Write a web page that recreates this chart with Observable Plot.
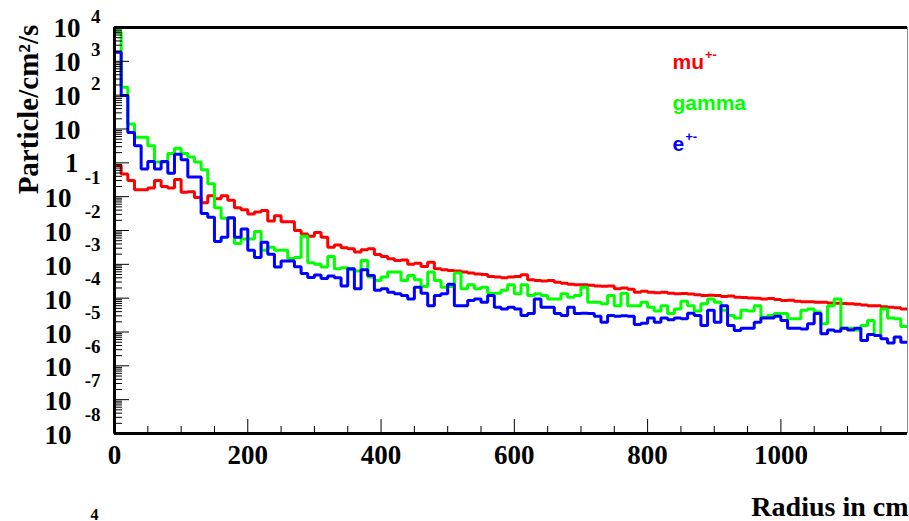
<!DOCTYPE html>
<html><head><meta charset="utf-8">
<script src="https://cdn.jsdelivr.net/npm/d3@7"></script>
<script src="https://cdn.jsdelivr.net/npm/@observablehq/plot@0.6"></script>
<style>
html,body{margin:0;padding:0;background:#fff;}
</style></head><body><div id="chart"></div>
<script>
// ---- data ----
const binWidth = 10;          // cm per bin
const xMax = 1190;            // axis upper edge (cm)
const yMin = 1e-8, yMax = 1e4;

const muValues = [0.83, 0.47, 0.30, 0.16, 0.16, 0.18, 0.30, 0.20, 0.18, 0.32,
 0.135, 0.14, 9.5e-2, 6.6e-2, 0.107, 8.7e-2, 0.107, 7.9e-2, 4.7e-2, 4.1e-2,
 3.1e-2, 3.5e-2, 3.9e-2, 1.9e-2, 2.75e-2, 1.8e-2, 1.8e-2, 1.0e-2, 7.9e-3, 6.8e-3,
 8.7e-3, 6.3e-3, 3.2e-3, 3.7e-3, 3.1e-3, 2.9e-3, 2.3e-3, 2.7e-3, 2.9e-3, 1.95e-3,
 1.7e-3, 1.45e-3, 1.3e-3, 1.35e-3, 1.0e-3, 1.07e-3, 8.7e-4, 1.15e-3, 7.4e-4, 6.9e-4,
 6.6e-4, 6.3e-4, 5.9e-4, 5.5e-4, 5.2e-4, 5.0e-4, 4.4e-4, 4.2e-4, 4.0e-4, 4.2e-4,
 4.4e-4, 4.9e-4, 3.5e-4, 3.3e-4, 3.2e-4, 3.3e-4, 2.95e-4, 2.75e-4, 2.6e-4, 2.5e-4,
 2.5e-4, 2.4e-4, 2.3e-4, 2.25e-4, 2.3e-4, 1.9e-4, 2.0e-4, 1.85e-4, 1.5e-4, 1.6e-4,
 1.5e-4, 1.45e-4, 1.5e-4, 1.4e-4, 1.35e-4, 1.38e-4, 1.32e-4, 1.26e-4, 1.2e-4, 1.23e-4,
 1.2e-4, 1.12e-4, 1.15e-4, 1.07e-4, 1.05e-4, 1.02e-4, 1.0e-4, 9.5e-5, 9.8e-5, 9.1e-5,
 8.5e-5, 8.7e-5, 8.1e-5, 7.9e-5, 7.9e-5, 7.6e-5, 7.6e-5, 7.2e-5, 7.1e-5, 6.9e-5,
 6.8e-5, 6.6e-5, 6.3e-5, 6.0e-5, 6.0e-5, 5.6e-5, 5.4e-5, 5.2e-5, 4.8e-5];

const gammaValues = [7200, 170, 14, 5.75, 5.75, 3.2, 1.05, 1.05, 1.9, 2.7,
 1.9, 1.5, 1.05, 0.62, 0.24, 4.7e-2, 2.3e-2, 2.3e-2, 4.1e-3, 5.6e-3,
 5.6e-3, 9.3e-3, 2.6e-3, 3.2e-3, 2.6e-3, 2.6e-3, 1.5e-3, 1.6e-3, 6.8e-3, 1.12e-3,
 1.0e-3, 8.3e-4, 1.7e-3, 7.4e-4, 7.9e-4, 6.9e-4, 6.3e-4, 1.3e-3, 4.2e-4, 3.3e-4,
 4.2e-4, 5.9e-4, 5.9e-4, 3.3e-4, 4.7e-4, 3.5e-4, 2.2e-4, 5.9e-4, 3.3e-4, 2.1e-4,
 2.2e-4, 5.5e-4, 1.9e-4, 2.5e-4, 1.9e-4, 2.1e-4, 1.4e-4, 1.4e-4, 1.7e-4, 2.5e-4,
 1.35e-4, 2.5e-4, 1.2e-4, 1.35e-4, 1.2e-4, 9.5e-5, 9.5e-5, 1.35e-4, 1.07e-4, 1.2e-4,
 2.1e-4, 7.6e-5, 7.6e-5, 6.8e-5, 1.2e-4, 6.0e-5, 1.4e-4, 6.0e-5, 6.0e-5, 7.6e-5,
 5.4e-5, 4.2e-5, 6.0e-5, 3.5e-5, 4.8e-5, 8.1e-5, 6.0e-5, 4.2e-5, 6.8e-5, 9.5e-5,
 7.6e-5, 4.4e-5, 3.1e-5, 2.6e-5, 4.4e-5, 4.2e-5, 6.0e-5, 2.75e-5, 3.1e-5, 3.5e-5,
 3.5e-5, 2.45e-5, 2.45e-5, 4.4e-5, 4.8e-5, 3.9e-5, 1.75e-5, 6.0e-5, 9.5e-5, 1.3e-5,
 1.3e-5, 1.15e-5, 1.55e-5, 2.2e-5, 7.9e-6, 4.8e-5, 2.6e-5, 2.45e-5, 1.45e-5];

const eValues = [1860, 98, 7.9, 3.2, 0.66, 1.1, 0.66, 1.1, 0.49, 1.8,
 1.23, 0.38, 0.38, 3.2e-2, 2.45e-2, 4.7e-3, 6.3e-3, 2.4e-2, 6.3e-3, 1.1e-2,
 2.6e-3, 1.6e-3, 4.5e-3, 2.0e-3, 8.3e-4, 1.26e-3, 1.26e-3, 8.5e-4, 5.4e-4, 4.1e-4,
 4.8e-4, 3.8e-4, 4.5e-4, 4.0e-4, 2.3e-4, 7.4e-4, 1.9e-4, 6.9e-4, 4.7e-4, 1.7e-4,
 1.9e-4, 1.5e-4, 1.35e-4, 1.2e-4, 9.5e-5, 2.1e-4, 1.4e-4, 6.0e-5, 1.2e-4, 1.35e-4,
 2.6e-4, 6.0e-5, 6.0e-5, 8.5e-5, 9.5e-5, 7.6e-5, 1.2e-4, 5.4e-5, 4.8e-5, 5.4e-5,
 4.8e-5, 3.1e-5, 3.5e-5, 9.5e-5, 5.4e-5, 5.4e-5, 3.5e-5, 3.1e-5, 5.4e-5, 3.5e-5,
 3.6e-5, 3.5e-5, 2.9e-5, 1.95e-5, 3.1e-5, 2.9e-5, 3.0e-5, 2.9e-5, 1.66e-5, 1.8e-5,
 2.6e-5, 1.95e-5, 2.6e-5, 2.3e-5, 2.6e-5, 2.45e-5, 3.6e-5, 3.1e-5, 1.55e-5, 4.4e-5,
 1.95e-5, 6.0e-5, 1.55e-5, 1.1e-5, 1.3e-5, 1.3e-5, 1.95e-5, 2.6e-5, 2.6e-5, 2.9e-5,
 2.2e-5, 1.3e-5, 1.3e-5, 1.23e-5, 1.75e-5, 3.5e-5, 8.9e-6, 1.15e-5, 1.05e-5, 1.3e-5,
 1.15e-5, 1.3e-5, 5.6e-6, 8.5e-6, 7.9e-6, 6.3e-6, 4.7e-6, 7.1e-6, 5.0e-6];

const seriesNames  = ["mu", "gamma", "e"];
const seriesSups   = ["+-", "", "+-"];
const seriesColors = ["#ff0000", "#00ff00", "#0000ff"];
const xTickLabels  = [0, 200, 400, 600, 800, 1000];
const xMinorStep   = 50;
const yExponents   = [4, 3, 2, 1, 0, -1, -2, -3, -4, -5, -6, -7, -8];
const xTitle = "Radius in cm";
const yTitle = "Particle/cm\u00B2/s";

// ---- build tables ----
const allSeries = [muValues, gammaValues, eValues];
function histPoints(values, name) {
  const pts = [{x: 0, y: yMin, series: name}];
  values.forEach((v, i) => pts.push({x: i * binWidth, y: v, series: name}));
  pts.push({x: values.length * binWidth, y: values[values.length - 1], series: name});
  return pts;
}
const xMinor = d3.range(0, xMax + 1, xMinorStep).filter(v => !xTickLabels.includes(v));
const yMinor = [];
for (const e of yExponents) if (e < 4) for (let m = 2; m <= 9; m++) yMinor.push(m * Math.pow(10, e));

const W = 909, H = 521, ML = 114, MR = 2, MT = 27, MB = 88;
const PW = W - ML - MR, PH = H - MT - MB;
const serif = "Liberation Serif, Times New Roman, serif";
const sans = "Liberation Sans, Arial, Helvetica, sans-serif";

const ctx = document.createElement("canvas").getContext("2d");
const legendFont = 21;
ctx.font = `bold ${legendFont}px ${sans}`;

const marks = [];
// histograms
allSeries.forEach((vals, i) => {
  marks.push(Plot.line(histPoints(vals, seriesNames[i]), {
    x: "x", y: "y", curve: "step-after", stroke: seriesColors[i],
    strokeWidth: 3, strokeLinejoin: "miter", strokeLinecap: "butt"
  }));
});
// frame
marks.push(Plot.ruleX([xMax], {stroke: "#888", strokeWidth: 1}));
marks.push(Plot.ruleY([yMax], {stroke: "#000", strokeWidth: 3}));
marks.push(Plot.ruleX([0], {stroke: "#000", strokeWidth: 3}));
marks.push(Plot.ruleY([yMin], {stroke: "#000", strokeWidth: 3}));
// ticks
marks.push(Plot.tickY(yExponents.map(e => Math.pow(10, e)), {y: d => d, insetRight: PW - 15, stroke: "#000", strokeWidth: 1}));
marks.push(Plot.tickY(yMinor, {y: d => d, insetRight: PW - 8, stroke: "#000", strokeWidth: 1}));
marks.push(Plot.tickX(xTickLabels, {x: d => d, insetTop: PH - 14, stroke: "#000", strokeWidth: 1}));
marks.push(Plot.tickX(xMinor, {x: d => d, insetTop: PH - 7, stroke: "#000", strokeWidth: 1}));
// x tick labels
marks.push(Plot.text(xTickLabels, {x: d => d, text: d => String(d), frameAnchor: "bottom", dy: 22,
  lineAnchor: "middle", fontSize: 27, fontWeight: "bold", fontFamily: serif, fill: "#000"}));
// y tick labels
const yPos = yExponents.filter(e => e >= 1), yNeg = yExponents.filter(e => e < 0);
marks.push(Plot.text(yPos, {y: e => Math.pow(10, e), text: () => "10", frameAnchor: "left", textAnchor: "end",
  dx: -34, dy: 1, lineAnchor: "middle", fontSize: 27, fontWeight: "bold", fontFamily: serif, fill: "#000"}));
marks.push(Plot.text([0], {y: e => Math.pow(10, e), text: () => "1", frameAnchor: "left", textAnchor: "end",
  dx: -36, dy: 1, lineAnchor: "middle", fontSize: 27, fontWeight: "bold", fontFamily: serif, fill: "#000"}));
marks.push(Plot.text(yNeg, {y: e => Math.pow(10, e), text: () => "10", frameAnchor: "left", textAnchor: "end",
  dx: -43, dy: 2, lineAnchor: "middle", fontSize: 27, fontWeight: "bold", fontFamily: serif, fill: "#000"}));
marks.push(Plot.text(yPos.filter(e => e >= 2), {y: e => Math.pow(10, e), text: e => String(e), frameAnchor: "left", textAnchor: "end",
  dx: -14, dy: -11, lineAnchor: "middle", fontSize: 19, fontWeight: "bold", fontFamily: serif, fill: "#000"}));
marks.push(Plot.text(yNeg, {y: e => Math.pow(10, e), text: e => "-" + Math.abs(e), frameAnchor: "left", textAnchor: "end",
  dx: -14, dy: -19, lineAnchor: "middle", fontSize: 19, fontWeight: "bold", fontFamily: serif, fill: "#000"}));
// axis titles
marks.push(Plot.text([xTitle], {text: d => d, frameAnchor: "bottom-right", textAnchor: "end", lineAnchor: "bottom",
  dx: 1, dy: 82, fontSize: 28, fontWeight: "bold", fontFamily: serif, fill: "#000"}));
marks.push(Plot.text([yTitle], {text: d => d, frameAnchor: "left", rotate: -90, textAnchor: "middle", lineAnchor: "bottom",
  dx: -77, dy: -121, fontSize: 29, fontWeight: "bold", fontFamily: serif, fill: "#000"}));
// partial label from neighbouring pad (at the bottom edge)
marks.push(Plot.text(["4"], {text: d => d, frameAnchor: "bottom-left", textAnchor: "middle", lineAnchor: "bottom",
  dx: -20, dy: 86, fontSize: 16, fontWeight: "bold", fontFamily: serif, fill: "#000"}));
// legend
seriesNames.forEach((name, i) => {
  const dy = 41 + i * 41;
  marks.push(Plot.text([name], {text: d => d, frameAnchor: "top-left", textAnchor: "start", lineAnchor: "bottom",
    dx: 558, dy, fontSize: legendFont, fontWeight: "bold", fontFamily: sans, fill: seriesColors[i]}));
  if (seriesSups[i]) {
    const w = ctx.measureText(name).width;
    marks.push(Plot.text([seriesSups[i]], {text: d => d, frameAnchor: "top-left", textAnchor: "start", lineAnchor: "bottom",
      dx: 558 + w + 1, dy: dy - 10, fontSize: 13, fontWeight: "bold", fontFamily: sans, fill: seriesColors[i]}));
  }
});

const chart = Plot.plot({
  width: W, height: H,
  marginLeft: ML, marginRight: MR, marginTop: MT, marginBottom: MB,
  x: {type: "linear", domain: [0, xMax], axis: null},
  y: {type: "log", domain: [yMin, yMax], axis: null},
  style: {background: "#fff"},
  marks
});
document.getElementById("chart").appendChild(chart);
</script>
</body></html>
